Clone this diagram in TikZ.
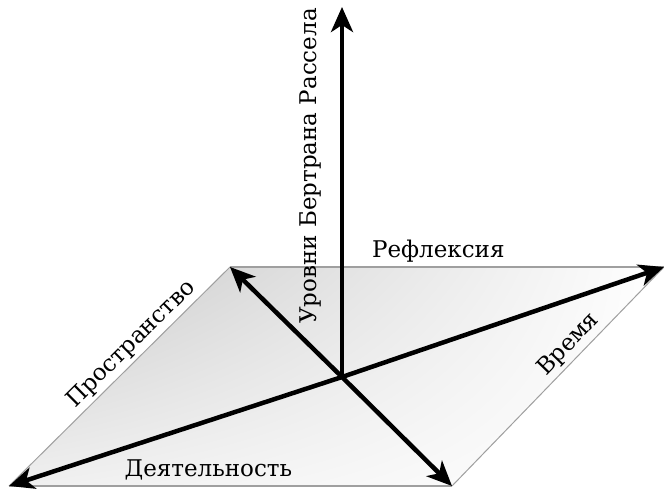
\documentclass[tikz,border=0pt]{standalone}
\usepackage{fontspec}
\setmainfont{DejaVu Serif}
\usetikzlibrary{arrows.meta,shadings}

\begin{document}
\begin{tikzpicture}[x=1pt,y=1pt,
    axis/.style={line width=4.5pt,-{Stealth[length=25pt,width=22pt,inset=7pt]}},
    edge/.style={draw=gray!75,line width=1pt},
    lab/.style={font=\fontsize{23}{27}\selectfont}]
    \useasboundingbox (0,0) rectangle (664,488);
    \coordinate (o) at (342,111);
    \coordinate (tl) at (230,221);
    \coordinate (tr) at (664,221);
    \coordinate (br) at (452,2);
    \coordinate (bl) at (9,2);
    \coordinate (up) at (342,481);
    % plane
    \shade[upper left=gray!45,upper right=white,lower left=gray!12,lower right=white]
        (bl)--(br)--(tr)--(tl)--cycle;
    \draw[edge] (bl)--(tl) node[lab,pos=0.6,sloped,above] {Пространство};
    \draw[edge] (br)--(tr) node[lab,pos=0.6,sloped,above] {Время};
    \draw[edge,line width=1.5pt] (tl)--(tr) node[lab,pos=0.48,above=1pt] {Рефлексия};
    \draw[edge,line width=2.5pt] (bl)--(br) node[lab,pos=0.45,above=1pt] {Деятельность};
    % axes
    \draw[axis] (o)--(up) node[lab,pos=0.57,sloped,above=15pt] {Уровни Бертрана Рассела};
    \draw[axis] (o)--(tl);
    \draw[axis] (o)--(tr);
    \draw[axis] (o)--(bl);
    \draw[axis] (o)--(br);
\end{tikzpicture}
\end{document}
